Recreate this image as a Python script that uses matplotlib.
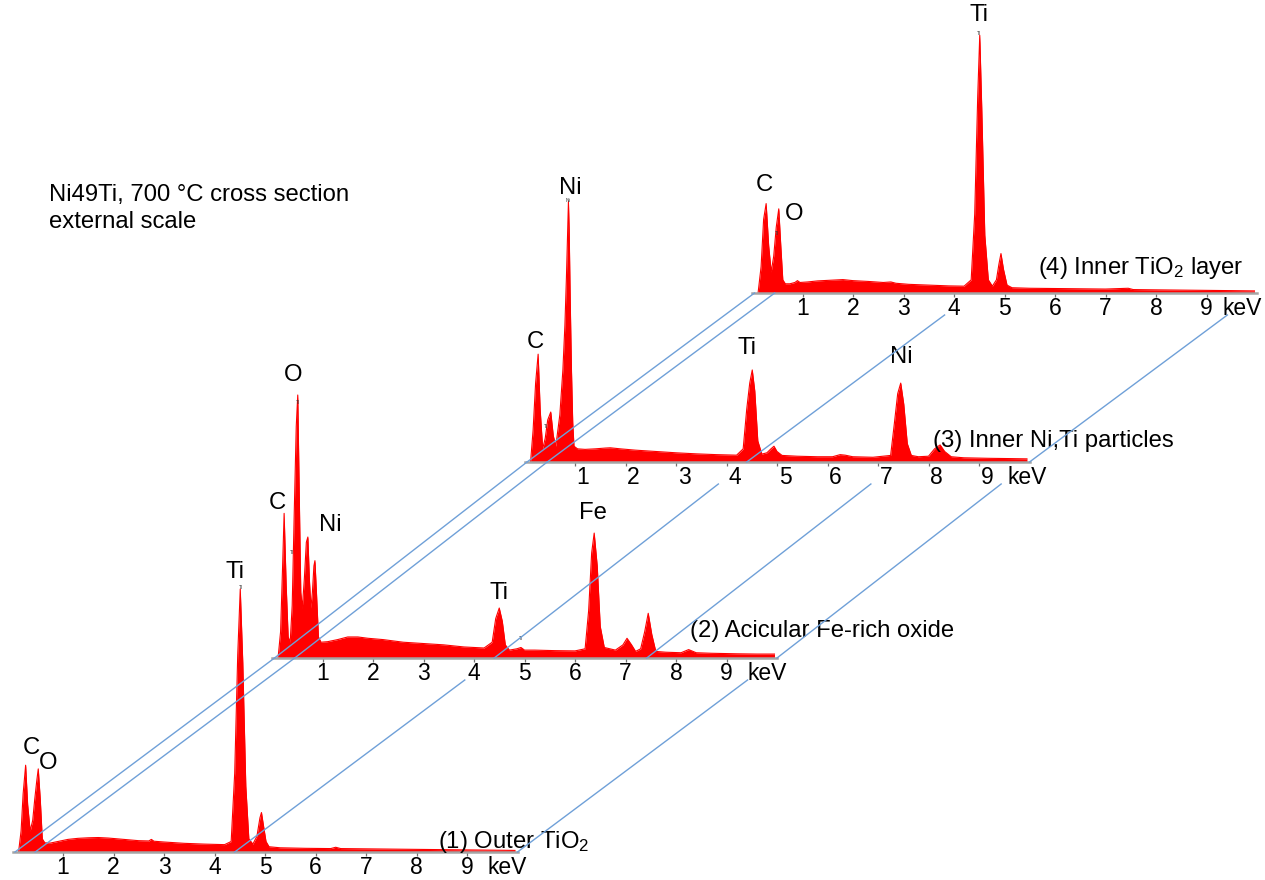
import matplotlib
matplotlib.use("Agg")
import matplotlib.pyplot as plt
from matplotlib import transforms

plt.rcParams["font.family"] = ["Liberation Sans", "DejaVu Sans"]
plt.rcParams["mathtext.fontset"] = "custom"
plt.rcParams["mathtext.rm"] = "Liberation Sans"
plt.rcParams["mathtext.it"] = "Liberation Sans:italic"

# --- spectra (energy in keV, counts as % of the tallest peak) -----------------
outer_tio2_kev = [0.12, 0.17, 0.21, 0.26, 0.30, 0.35, 0.40, 0.44, 0.48, 0.51,
                  0.55, 0.59, 0.64, 0.75, 0.9, 1.1, 1.3, 1.5, 1.7, 1.9,
                  2.2, 2.5, 2.7, 2.75, 2.8, 3.0, 3.4, 3.8, 4.2, 4.33,
                  4.40, 4.46, 4.51, 4.56, 4.62, 4.68, 4.76, 4.84, 4.90, 4.93,
                  4.97, 5.02, 5.08, 5.3, 5.8, 6.3, 6.4, 6.5, 7.0, 7.5,
                  8.0, 8.5, 9.0, 9.5, 9.95]
outer_tio2_counts = [0, 8, 22, 33, 18, 8, 12, 20, 27, 31.6,
                     20, 5, 3.5, 3.4, 4.0, 4.8, 5.2, 5.4, 5.5, 5.3,
                     4.8, 4.3, 4.2, 4.8, 4.1, 3.8, 3.3, 3.0, 2.8, 4,
                     30, 75, 100, 72, 25, 5, 3.0, 6, 13, 15,
                     10, 4, 2, 1.6, 1.4, 1.3, 1.8, 1.3, 1.2, 1.1,
                     1.0, 0.9, 0.8, 0.7, 0.6]

fe_oxide_kev = [0.12, 0.17, 0.21, 0.24, 0.28, 0.32, 0.36, 0.40, 0.44, 0.48,
                0.51, 0.54, 0.57, 0.60, 0.64, 0.68, 0.71, 0.74, 0.77, 0.80,
                0.83, 0.85, 0.88, 0.92, 0.97, 1.1, 1.3, 1.5, 1.7, 1.9,
                2.2, 2.6, 3.0, 3.4, 3.8, 4.2, 4.36, 4.43, 4.50, 4.56,
                4.62, 4.70, 4.85, 4.93, 5.0, 5.2, 5.6, 6.0, 6.2, 6.27,
                6.33, 6.38, 6.44, 6.50, 6.58, 6.8, 6.95, 7.03, 7.12, 7.2,
                7.3, 7.38, 7.45, 7.52, 7.6, 7.8, 8.1, 8.25, 8.4, 8.7,
                9.2, 9.6, 9.95]
fe_oxide_counts = [0, 10, 35, 55, 28, 8, 6, 20, 55, 88,
                   100, 62, 25, 19, 30, 44, 46, 30, 19, 25,
                   35, 37, 25, 8, 6, 6.2, 7, 8, 8, 7.5,
                   7, 6, 5.5, 5, 4.2, 3.8, 6, 15, 19, 14,
                   5, 3, 3.5, 4, 3, 3, 2.8, 2.7, 3.5, 18,
                   40, 47.5, 35, 12, 4, 3, 5, 7.5, 5, 2.5,
                   3.5, 10, 17, 9, 2.5, 2.2, 2.0, 3.2, 2.0, 1.8,
                   1.6, 1.5, 1.5]

niti_particles_kev = [0.12, 0.17, 0.22, 0.27, 0.31, 0.36, 0.41, 0.46, 0.52, 0.57,
                      0.62, 0.70, 0.76, 0.80, 0.83, 0.855, 0.87, 0.885, 0.905, 0.93,
                      0.955, 0.98, 1.05, 1.2, 1.4, 1.6, 1.7, 1.9, 2.2, 2.6,
                      3.0, 3.4, 3.8, 4.2, 4.33, 4.40, 4.46, 4.51, 4.56, 4.62,
                      4.70, 4.80, 4.88, 4.94, 5.0, 5.1, 5.4, 5.8, 6.1, 6.25,
                      6.35, 6.5, 6.9, 7.25, 7.32, 7.39, 7.45, 7.51, 7.58, 7.66,
                      7.8, 8.0, 8.12, 8.23, 8.32, 8.45, 8.7, 9.2, 9.6, 9.95]
niti_particles_counts = [0, 12, 30, 41, 20, 5, 9, 16, 19, 10,
                         6, 18, 35, 52, 70, 88, 99, 88, 62, 35,
                         15, 6, 5, 4.8, 5.0, 5.3, 5.4, 5.0, 4.5, 4.0,
                         3.5, 3.1, 2.8, 2.6, 5, 20, 30, 35, 27, 8,
                         3, 3.5, 5, 6, 4, 2.5, 2.2, 2.0, 2.0, 2.8,
                         2.6, 2.0, 1.8, 2.5, 14, 26, 30, 22, 7, 2.5,
                         2.0, 2.2, 5, 6.5, 4, 2.0, 1.6, 1.4, 1.3, 1.2]

inner_tio2_kev = [0.12, 0.18, 0.23, 0.28, 0.33, 0.38, 0.43, 0.48, 0.53, 0.57,
                  0.61, 0.66, 0.75, 0.85, 0.90, 0.95, 1.1, 1.3, 1.5, 1.7,
                  1.8, 2.0, 2.3, 2.6, 2.75, 2.85, 3.1, 3.5, 3.9, 4.2,
                  4.34, 4.41, 4.47, 4.51, 4.55, 4.61, 4.68, 4.76, 4.84, 4.89,
                  4.93, 4.98, 5.05, 5.15, 5.5, 6.0, 6.5, 7.0, 7.45, 7.55,
                  8.0, 8.5, 9.0, 9.5, 9.95]
inner_tio2_counts = [0, 10, 28, 34, 18, 8, 14, 25, 32, 18,
                     5, 3.5, 3.5, 4.0, 4.7, 4.0, 4.2, 4.6, 4.8, 5.0,
                     5.1, 4.7, 4.4, 4.0, 4.2, 3.7, 3.3, 3.0, 2.7, 2.6,
                     5, 30, 75, 98, 70, 22, 5, 2.6, 5, 11,
                     15, 9, 3, 2.0, 1.8, 1.7, 1.6, 1.5, 1.8, 1.3,
                     1.2, 1.1, 1.0, 0.9, 0.8]

panel_titles = ["(1) Outer TiO$_2$", "(2) Acicular Fe-rich oxide",
                "(3) Inner Ni,Ti particles", "(4) Inner TiO$_2$ layer"]
tick_kev = [1, 2, 3, 4, 5, 6, 7, 8, 9]

# peak labels: (text, keV, height)
peak_labels = [
    [("C", 0.38, 39.5), ("O", 0.70, 33.8), ("Ti", 4.41, 106.5)],
    [("C", 0.11, 58.9), ("O", 0.42, 107.6), ("Ni", 1.15, 50.6),
     ("Ti", 4.49, 24.9), ("Fe", 6.35, 55.2)],
    [("C", 0.21, 45.7), ("Ni", 0.90, 104.0), ("Ti", 4.40, 43.2), ("Ni", 7.47, 40.0)],
    [("C", 0.25, 41.0), ("O", 0.84, 30.0), ("Ti", 4.50, 105.7)],
]
tiny_labels = [
    [("Ti", 4.52, 100.5)],
    [("Ti", 0.39, 40.0), ("Ti", 0.51, 97.0), ("Ti", 4.93, 7.6)],
    [("Ti", 0.42, 13.4), ("Ni", 0.87, 99.5)],
    [("Ti", 0.49, 22.8), ("Ti", 4.50, 98.5)],
]

# guide lines joining equal energies: (keV, first panel, last panel)
guide_lines = [(0.05, 0, 3), (0.45, 0, 3), (4.4, 0, 3), (7.42, 1, 2), (10.0, 0, 3)]

# --- layout (pixels of the 1265 x 880 canvas) ---------------------------------
W, H = 1265, 880
PX_PER_KEV = 50.5
PX_PER_COUNT = 2.63
panel_x0 = [12.5, 272, 524.5, 752]
panel_base = [852, 658, 462, 293]
label_shift_px = [0, 0, 8, 0]
kev_label_pos = [9.8, 9.8, 9.8, 9.7]
title_pos = [(8.43, 1.5), (8.28, 8.0), (8.08, 5.7), (5.66, 7.3)]
FS = 17.2
TICK_FS = 16.5

spectra = [
    (outer_tio2_kev, outer_tio2_counts),
    (fe_oxide_kev, fe_oxide_counts),
    (niti_particles_kev, niti_particles_counts),
    (inner_tio2_kev, inner_tio2_counts),
]

fig = plt.figure(figsize=(W / 100, H / 100), dpi=100)

axes = []
for k, (kev, counts) in enumerate(spectra):
    ax = fig.add_axes([panel_x0[k] / W, (H - panel_base[k]) / H,
                       10 * PX_PER_KEV / W, 300 / H])
    ax.set_xlim(0, 10)
    ax.set_ylim(0, 300 / PX_PER_COUNT)
    ax.patch.set_visible(False)
    for side in ("left", "right", "top"):
        ax.spines[side].set_visible(False)
    ax.spines["bottom"].set_color("#a5a5a5")
    ax.spines["bottom"].set_linewidth(1.8)
    ax.set_yticks([])
    ax.set_xticks(tick_kev)
    ax.set_xticklabels([])
    ax.tick_params(axis="x", length=3, width=0.9, color="#707070")

    ax.fill_between(kev, counts, 0, color="#ff0000", lw=0)
    ax.plot(kev, counts, color="#ff0000", lw=0.8)

    lab_tr = transforms.offset_copy(ax.get_xaxis_transform(), fig=fig,
                                    x=label_shift_px[k], y=-4, units="dots")
    for t in tick_kev:
        ax.text(t, 0, str(t), transform=lab_tr, ha="center", va="top", fontsize=TICK_FS)
    ax.text(kev_label_pos[k], 0, "keV", transform=lab_tr, ha="center", va="top",
            fontsize=TICK_FS)

    for txt, e, h in peak_labels[k]:
        ax.text(e, h, txt, ha="center", va="center", fontsize=FS)
    for txt, e, h in tiny_labels[k]:
        ax.text(e, h, txt, ha="center", va="center", fontsize=3.5, color="#333333")

    tx, ty = title_pos[k]
    ax.text(tx, ty, panel_titles[k], ha="left", va="baseline", fontsize=FS)
    axes.append(ax)

# overlay for the blue guide lines, in canvas pixels
ov = fig.add_axes([0, 0, 1, 1], zorder=10)
ov.set_xlim(0, W)
ov.set_ylim(H, 0)
ov.axis("off")
to_ov = ov.transData.inverted()
GAP = 22

for e, k0, k1 in guide_lines:
    pts = [to_ov.transform(axes[k].transData.transform((e, 0))) for k in range(k0, k1 + 1)]
    for a, b in zip(pts[:-1], pts[1:]):
        if e > 1:
            t = (a[1] - (b[1] + GAP)) / (a[1] - b[1])
            b = a + t * (b - a)
        ov.plot([a[0], b[0]], [a[1], b[1]], color="#6fa0d8", lw=1.0)

fig.text(49 / W, 1 - 200.7 / H, "Ni49Ti, 700 °C cross section", fontsize=FS,
         ha="left", va="baseline")
fig.text(49 / W, 1 - 228 / H, "external scale", fontsize=FS, ha="left", va="baseline")

fig.savefig("out.png", dpi=100, facecolor="white")
